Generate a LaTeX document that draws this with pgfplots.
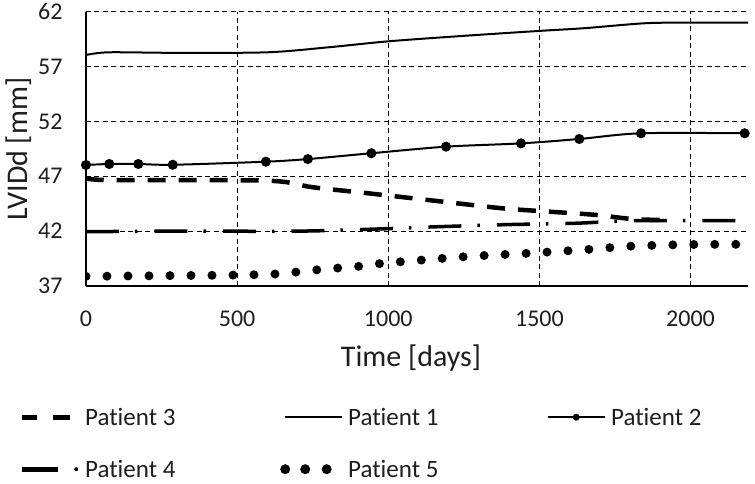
\documentclass[border=0pt]{standalone}
\usepackage{fontspec}
\setmainfont{Carlito}[Ligatures={NoCommon}]
\usepackage{pgfplots}
\pgfplotsset{compat=1.18}
\definecolor{txt}{RGB}{30,30,30}
\begin{document}
\begin{tikzpicture}
\begin{axis}[
  scale only axis, width=662pt, height=274.3pt,
  xmin=0, xmax=2190, ymin=37, ymax=62,
  xtick={0,500,1000,1500,2000}, ytick={37,42,47,52,57,62},
  scaled x ticks=false,
  /pgf/number format/assume math mode=true,
  /pgf/number format/1000 sep={},
  axis x line=bottom, axis y line=left,
  axis line style={line width=1.5pt, -, black},
  major tick length=0pt,
  grid=major,
  grid style={black, line width=1pt, dash pattern=on 5pt off 3.5pt},
  xticklabel style={anchor=center, yshift=-32.5pt, inner sep=0pt, font=\fontsize{24}{28}\selectfont, text=txt},
  yticklabel style={anchor=east, xshift=-23.3pt, inner sep=0pt, font=\fontsize{24}{28}\selectfont, text=txt},
  xlabel={Time [days]},
  xlabel style={at={(axis description cs:0.491,-0.2625)}, anchor=center, font=\fontsize{30}{36}\selectfont, text=txt},
  ylabel={LVIDd [mm]},
  ylabel style={at={(axis description cs:-0.1012,0.5)}, anchor=center, font=\fontsize{30}{36}\selectfont, text=txt},
  legend columns=3,
  legend cell align=left,
  legend style={at={(axis description cs:-0.10574,-0.4338)}, anchor=north west, draw=none, fill=none,
    inner xsep=0pt, inner ysep=0pt, column sep=0pt, row sep=28pt,
    font=\fontsize{25}{30}\selectfont, text=txt,
    nodes={inner sep=0pt, text depth=0pt}},
]
% Patient 3
\addplot[black, line width=4.5pt, dash pattern=on 18pt off 13pt, smooth,
  legend image code/.code={\path[draw=none,fill=none] (-6pt,-12pt) rectangle (63pt,12pt);
    \draw[black, solid, line width=5pt] (0pt,0pt)--(15pt,0pt) (31pt,0pt)--(48pt,0pt);}]
coordinates {(0,46.85) (80,46.65) (600,46.6) (750,46.0) (950,45.4) (1160,44.75) (1370,44.1) (1485,43.86) (1585,43.68) (1690,43.47) (1810,43.1) (1930,43.0)};
\addlegendentry{\makebox[194pt][l]{Patient 3}}
% Patient 1
\addplot[black, line width=2pt, smooth,
  legend image code/.code={\path[draw=none,fill=none] (-6pt,-12pt) rectangle (63pt,12pt);
    \draw[black, solid, line width=2.5pt] (0pt,0pt)--(57pt,0pt);}]
coordinates {(0,58.05) (75,58.3) (300,58.25) (600,58.3) (800,58.75) (1000,59.3) (1250,59.8) (1500,60.25) (1650,60.5) (1850,60.95) (2000,61.0) (2190,61.0)};
\addlegendentry{\makebox[194pt][l]{Patient 1}}
% Patient 2
\addplot[black, line width=2pt, smooth, mark=*, mark size=4pt, mark options={solid, fill=black},
  legend image code/.code={\path[draw=none,fill=none] (-6pt,-12pt) rectangle (63pt,12pt);
    \draw[black, solid, line width=2.5pt] (0pt,0pt)--(57pt,0pt);
    \fill[black, draw=none] (28pt,0pt) circle (3.5pt);}]
coordinates {(0,48.03) (77,48.12) (173,48.12) (287,48.05) (595,48.33) (734,48.57) (944,49.1) (1191,49.7) (1439,50.0) (1632,50.4) (1836,50.92) (2179,50.92)};
\addlegendentry{\makebox[194pt][l]{Patient 2}}
% Patient 4
\addplot[black, line width=3.5pt, dash pattern=on 33pt off 16pt on 2.5pt off 17pt, smooth,
  legend image code/.code={\path[draw=none,fill=none] (-6pt,-12pt) rectangle (63pt,12pt);
    \draw[black, solid, line width=5pt] (0pt,0pt)--(36pt,0pt);
    \fill[black, draw=none] (54pt,0pt) circle (2pt);}]
coordinates {(0,41.95) (300,42.0) (700,42.0) (970,42.2) (1160,42.4) (1400,42.6) (1620,42.72) (1800,42.95) (2000,42.95) (2190,42.95)};
\addlegendentry{\makebox[194pt][l]{Patient 4}}
% Patient 5
\addplot[black, line width=9pt, line cap=round, dash pattern=on 0pt off 21pt, smooth,
  legend image code/.code={\path[draw=none,fill=none] (-6pt,-12pt) rectangle (63pt,12pt);
    \fill[black, draw=none] (0pt,0pt) circle (5pt) (20pt,0pt) circle (5pt) (41.5pt,0pt) circle (5pt);}]
coordinates {(0,37.88) (300,37.95) (500,38.0) (630,38.1) (773,38.5) (905,38.8) (975,39.05) (1252,39.67) (1460,39.98) (1665,40.34) (1807,40.64) (2000,40.78) (2190,40.8)};
\addlegendentry{\makebox[194pt][l]{Patient 5}}
\end{axis}
\pgfresetboundingbox
\path (-86pt,-197pt) rectangle (669pt,286pt);
\end{tikzpicture}
\end{document}
